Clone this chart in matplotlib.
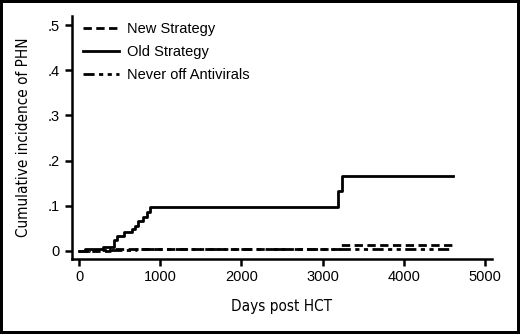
import matplotlib.pyplot as plt
from matplotlib.patches import Rectangle

# Kaplan-Meier style cumulative incidence
old_days = [0, 74, 300, 431, 464, 554, 649, 690, 731, 784, 841, 874, 3186, 3235, 4602]
old_inc = [0, 0.004, 0.0095, 0.024, 0.033, 0.043, 0.048, 0.055, 0.066, 0.076, 0.087, 0.098, 0.133, 0.167, 0.167]

new_days = [0, 380, 1200, 3230, 4590]
new_inc = [0, 0.004, 0.005, 0.013, 0.013]

never_days = [0, 120, 700, 3300, 4600]
never_inc = [0, 0.002, 0.004, 0.005, 0.005]

labels = ['New Strategy', 'Old Strategy', 'Never off Antivirals']
yticks = [0, 0.1, 0.2, 0.3, 0.4, 0.5]
yticklabels = ['0', '.1', '.2', '.3', '.4', '.5']
xticks = [0, 1000, 2000, 3000, 4000, 5000]

plt.rcParams['font.family'] = ['Liberation Sans', 'DejaVu Sans']

fig = plt.figure(figsize=(5.2, 3.34), dpi=100)
ax = fig.add_axes([0.1385, 0.2246, 0.8075, 0.7274])

ax.step(new_days, new_inc, where='post', color='black', lw=2,
        linestyle=(0, (3, 1.6)), label=labels[0])
ax.step(old_days, old_inc, where='post', color='black', lw=2,
        linestyle='-', label=labels[1])
ax.step(never_days, never_inc, where='post', color='black', lw=2,
        linestyle=(0, (4, 1.6, 1.5, 1.6, 1.5, 1.6)), label=labels[2])

ax.set_xlim(-86, 5086)
ax.set_ylim(-0.0177, 0.52)
ax.set_xticks(xticks)
ax.set_yticks(yticks)
ax.set_yticklabels(yticklabels)

for s in ['top', 'right']:
    ax.spines[s].set_visible(False)
for s in ['left', 'bottom']:
    ax.spines[s].set_linewidth(1.8)

ax.tick_params(axis='both', direction='out', length=5, width=1.8,
               labelsize=10.5, pad=3)
ax.tick_params(axis='y', pad=4)

ax.set_xlabel('Days post HCT', fontsize=11, family='DejaVu Sans',
              fontstretch='condensed', labelpad=11)
ax.set_ylabel('Cumulative incidence of PHN', fontsize=11, family='DejaVu Sans',
              fontstretch='condensed', labelpad=12)

ax.legend(loc='upper left', bbox_to_anchor=(0.012, 1.0), frameon=False,
          fontsize=10.5, handlelength=2.5, handletextpad=0.5, labelspacing=0.62,
          borderaxespad=0)

fig.add_artist(Rectangle((0, 0), 1, 1, transform=fig.transFigure,
                         fill=False, lw=4.3, ec='black'))

fig.savefig('out.png', dpi=100)
